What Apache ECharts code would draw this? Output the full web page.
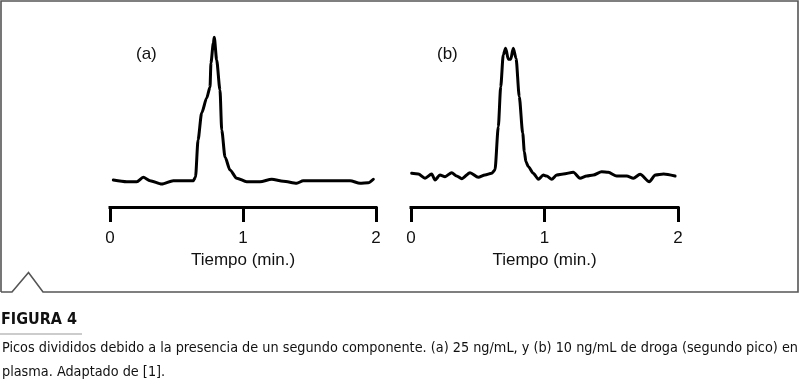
<!DOCTYPE html>
<html>
<head>
<meta charset="utf-8">
<script src="https://cdn.jsdelivr.net/npm/echarts@6/dist/echarts.min.js"></script>
<style>
html,body{margin:0;padding:0;background:#fff;}
#chart{width:800px;height:392px;}
</style>
</head>
<body>
<div id="chart"></div>
<script>
// ---- data ----
const tickValues = [0, 1, 2];
const panelLabels = ['(a)', '(b)'];
const axisTitle = 'Tiempo (min.)';
const figureTitle = 'FIGURA 4';
const captionLines = [
  'Picos divididos debido a la presencia de un segundo componente. (a) 25 ng/mL, y (b) 10 ng/mL de droga (segundo pico) en',
  'plasma. Adaptado de [1].'
];

// panel (a): time (min) and detector signal (relative units)
const timeA = [0.025,0.126,0.201,0.250,0.301,0.389,0.476,0.551,0.626,0.643,0.662,0.689,0.727,0.752,0.759,0.777,0.784,0.802,0.827,0.840,0.865,0.902,0.953,1.028,1.128,1.216,1.303,1.404,1.453,1.629,1.805,1.880,1.942,1.980];
const signalA = [1.4,0.2,0.2,3.2,0.9,-1.4,0.9,0.9,0.9,3.4,29.0,47.6,57.9,65.5,82.1,95.9,99.8,84.1,63.4,35.9,17.2,8.3,2.6,0.2,0.2,1.9,0.5,-0.9,0.9,0.9,0.9,-0.9,-0.5,1.9];

// panel (b)
const timeB = [0.005,0.055,0.105,0.155,0.180,0.217,0.255,0.305,0.342,0.380,0.442,0.504,0.554,0.604,0.629,0.654,0.672,0.691,0.709,0.729,0.747,0.766,0.787,0.811,0.837,0.849,0.861,0.879,0.916,0.954,0.991,1.016,1.054,1.091,1.141,1.216,1.266,1.316,1.366,1.428,1.478,1.541,1.616,1.666,1.716,1.785,1.830,1.892,1.978];
const signalB = [6.0,5.5,2.6,5.5,1.4,4.8,3.7,6.4,4.1,2.3,6.4,3.2,4.8,6.0,8.3,38.1,65.7,87.6,92.2,84.6,84.6,92.2,85.3,58.8,33.6,20.9,14.0,10.6,6.0,1.9,4.8,4.1,1.9,4.8,5.5,6.7,2.6,4.1,4.8,7.1,6.7,4.1,4.1,2.6,5.3,0.2,4.8,5.5,4.1];

// ---- chart ----
const pairs = (xs, ys) => xs.map((x, i) => [x, ys[i]]);
const FONT = '"Liberation Sans", Arial, Helvetica, sans-serif';
const CAPFONT = '"Liberation Sans Narrow", "DejaVu Sans Condensed", "Noto Sans", sans-serif';

function xAxisFor(gridIndex) {
  return {
    type: 'value', gridIndex: gridIndex,
    min: tickValues[0], max: tickValues[tickValues.length - 1], interval: 1,
    splitLine: { show: false },
    axisLine: { show: true, onZero: false, lineStyle: { color: '#000', width: 3, cap: 'square' } },
    axisTick: { show: true, inside: false, length: 15, lineStyle: { color: '#000', width: 3 } },
    axisLabel: { show: true, margin: 23, color: '#111', fontFamily: FONT, fontSize: 17 },
    name: axisTitle, nameLocation: 'middle', nameGap: 45,
    nameTextStyle: { color: '#111', fontFamily: FONT, fontSize: 17 }
  };
}
function yAxisFor(gridIndex) {
  return { type: 'value', gridIndex: gridIndex, min: -17.24, max: 100, show: false, splitLine: { show: false } };
}
function lineSeries(idx, data) {
  return {
    type: 'line', xAxisIndex: idx, yAxisIndex: idx, data: data,
    showSymbol: false, smooth: 0.25, smoothMonotone: 'x',
    lineStyle: { color: '#000', width: 3, join: 'round', cap: 'round' },
    silent: true, animation: false
  };
}

const chart = echarts.init(document.getElementById('chart'), null, { renderer: 'canvas' });
chart.setOption({
  animation: false,
  backgroundColor: '#fff',
  grid: [
    { left: 110, top: 37, width: 266, height: 170 },
    { left: 411, top: 37, width: 267, height: 170 }
  ],
  xAxis: [xAxisFor(0), xAxisFor(1)],
  yAxis: [yAxisFor(0), yAxisFor(1)],
  series: [lineSeries(0, pairs(timeA, signalA)), lineSeries(1, pairs(timeB, signalB))],
  graphic: [
    { type: 'polyline', silent: true,
      shape: { points: [[1,292],[1,1],[798,1],[798,292],[43,292],[28.5,272.5],[12,292],[1,292]] },
      style: { stroke: '#555', lineWidth: 1.6, fill: null } },
    { type: 'text', left: 136, top: 46, silent: true,
      style: { text: panelLabels[0], font: '17px ' + FONT, fill: '#111' } },
    { type: 'text', left: 437, top: 46, silent: true,
      style: { text: panelLabels[1], font: '17px ' + FONT, fill: '#111' } },
    { type: 'text', left: 1, top: 312, silent: true,
      style: { text: figureTitle, font: 'bold 16px ' + CAPFONT, fill: '#111' } },
    { type: 'line', silent: true, shape: { x1: 0, y1: 334, x2: 82, y2: 334 },
      style: { stroke: '#999', lineWidth: 1 } },
    { type: 'text', left: 2, top: 341, silent: true,
      style: { text: captionLines[0], font: '14.3px ' + CAPFONT, fill: '#111' } },
    { type: 'text', left: 2, top: 365, silent: true,
      style: { text: captionLines[1], font: '14.3px ' + CAPFONT, fill: '#111' } }
  ]
});
</script>
</body>
</html>
